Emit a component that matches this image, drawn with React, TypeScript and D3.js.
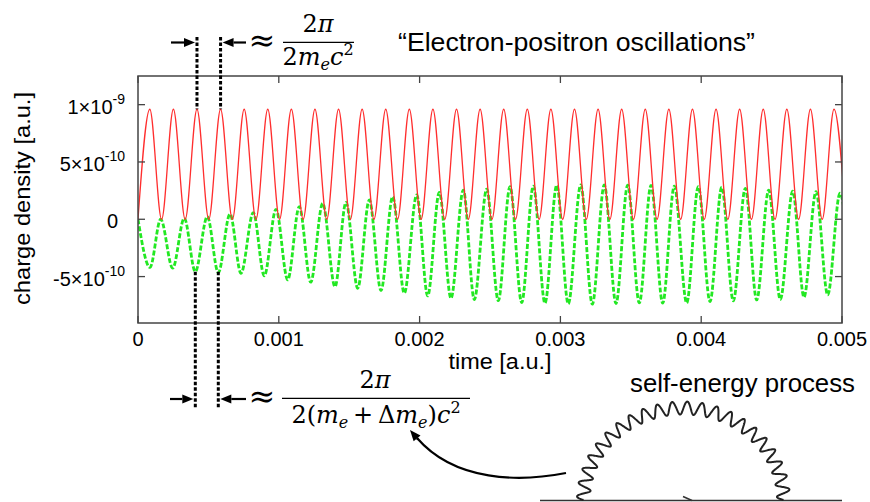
import React from 'react';
import * as d3 from 'd3';

const WIDTH = 870;
const HEIGHT = 502;

// times are stored in units of 1e-3 a.u., densities in units of 1e-10 a.u.
const T_UNIT = 1e-3;
const V_UNIT = 1e-10;

const xTicks = [0, 0.001, 0.002, 0.003, 0.004, 0.005];
const xTickLabels = ['0', '0.001', '0.002', '0.003', '0.004', '0.005'];
const yTicks = [-5e-10, 0, 5e-10, 1e-9];

// red curve: minima (touching zero) and maxima
const redTroughTimes = [0, 0.1676, 0.3351, 0.5027, 0.6703, 0.8378, 1.0054, 1.1730, 1.3405, 1.5081,
  1.6757, 1.8433, 2.0108, 2.1784, 2.3460, 2.5135, 2.6811, 2.8487, 3.0162, 3.1838,
  3.3514, 3.5189, 3.6865, 3.8541, 4.0216, 4.1892, 4.3568, 4.5243, 4.6919, 4.8595, 5.0270];
const redTroughValues = [0, 0, 0, 0, 0, 0, 0, 0, 0, 0, 0, 0, 0, 0, 0, 0, 0, 0, 0, 0,
  0, 0, 0, 0, 0, 0, 0, 0, 0, 0, 0];
const redPeakTimes = [0.0838, 0.2514, 0.4189, 0.5865, 0.7541, 0.9216, 1.0892, 1.2568, 1.4244, 1.5919,
  1.7595, 1.9271, 2.0946, 2.2622, 2.4298, 2.5973, 2.7649, 2.9325, 3.1001, 3.2676,
  3.4352, 3.6028, 3.7703, 3.9379, 4.1055, 4.2730, 4.4406, 4.6082, 4.7758, 4.9433];
const redPeakValues = [9.6, 9.6, 9.6, 9.6, 9.6, 9.6, 9.6, 9.6, 9.6, 9.6,
  9.6, 9.6, 9.6, 9.6, 9.6, 9.6, 9.6, 9.6, 9.6, 9.6,
  9.6, 9.6, 9.6, 9.6, 9.6, 9.6, 9.6, 9.6, 9.6, 9.6];

// green curve: maxima and minima
const greenPeakTimes = [0, 0.1612, 0.3288, 0.4922, 0.6534, 0.8189, 0.9801, 1.1456, 1.3118, 1.4773,
  1.6428, 1.8089, 1.9794, 2.1399, 2.3104, 2.4766, 2.6420, 2.8075, 2.9737, 3.1442,
  3.3118, 3.4780, 3.6435, 3.8089, 3.9794, 4.1456, 4.3132, 4.4794, 4.6499, 4.8153, 4.9858];
const greenPeakValues = [0, 0, 0.09, 0.23, 0.46, 0.58, 0.87, 1.1, 1.39, 1.48,
  1.68, 1.97, 2.12, 2.35, 2.55, 2.62, 2.84, 2.9, 2.97, 2.99,
  2.99, 2.98, 2.95, 2.88, 2.85, 2.8, 2.7, 2.55, 2.45, 2.4, 2.27];
const greenTroughTimes = [0.0852, 0.2464, 0.4070, 0.5703, 0.7315, 0.8970, 1.0632, 1.2266, 1.3991, 1.5604,
  1.7259, 1.8913, 2.0575, 2.2230, 2.3885, 2.5589, 2.7251, 2.8906, 3.0561, 3.2266,
  3.3949, 3.5604, 3.7266, 3.8970, 4.0625, 4.2280, 4.3942, 4.5618, 4.7301, 4.8984, 5.0650];
const greenTroughValues = [-4.2, -4.27, -4.57, -4.66, -4.71, -4.94, -5.29, -5.49, -5.88, -6.02,
  -6.22, -6.45, -6.69, -6.89, -7.0, -7.1, -7.27, -7.32, -7.38, -7.41,
  -7.35, -7.3, -7.32, -7.3, -7.18, -7.12, -7.04, -7.0, -6.8, -6.6, -6.4];

const PLOT = { left: 138, right: 842, top: 76, bottom: 323 };
const SANS = "'Liberation Sans', Arial, Helvetica, sans-serif";
const SERIF = "'DejaVu Serif', 'Liberation Serif', serif";

type Pt = { t: number; v: number };

function merge(t1: number[], v1: number[], t2: number[], v2: number[]): Pt[] {
  const pts: Pt[] = [];
  t1.forEach((t, i) => pts.push({ t, v: v1[i] }));
  t2.forEach((t, i) => pts.push({ t, v: v2[i] }));
  return pts.sort((a, b) => a.t - b.t);
}

function Arrow({ x1, y1, x2, y2, w = 2.2 }: { x1: number; y1: number; x2: number; y2: number; w?: number }) {
  const a = Math.atan2(y2 - y1, x2 - x1);
  const len = 11, half = 4.5;
  const bx = x2 - len * Math.cos(a), by = y2 - len * Math.sin(a);
  const p1 = [bx + half * Math.sin(a), by - half * Math.cos(a)];
  const p2 = [bx - half * Math.sin(a), by + half * Math.cos(a)];
  return (
    <g>
      <line x1={x1} y1={y1} x2={bx} y2={by} stroke="#000" strokeWidth={w} />
      <polygon points={`${x2},${y2} ${p1[0]},${p1[1]} ${p2[0]},${p2[1]}`} fill="#000" />
    </g>
  );
}

function yTickLabel(v: number) {
  if (v === 0) return { main: '0', sup: '' };
  const exp = Math.floor(Math.log10(Math.abs(v)) + 1e-9);
  const mant = Math.round(v / Math.pow(10, exp));
  return { main: `${mant}×10`, sup: `${exp}` };
}

export default function App() {
  const x = d3.scaleLinear().domain([0, 0.005]).range([PLOT.left, PLOT.right]);
  const y = d3.scaleLinear().domain([-9.05e-10, 1.25e-9]).range([PLOT.bottom, PLOT.top]);

  const red = merge(redTroughTimes, redTroughValues, redPeakTimes, redPeakValues);
  const green = merge(greenPeakTimes, greenPeakValues, greenTroughTimes, greenTroughValues);

  const line = d3.line<Pt>()
    .x(d => x(d.t * T_UNIT))
    .y(d => y(d.v * V_UNIT))
    .curve(d3.curveMonotoneX);

  // dotted markers at two neighbouring periods
  const topL = x(redPeakTimes[2] * T_UNIT), topR = x(redPeakTimes[3] * T_UNIT);
  const topEndY = y(redPeakValues[2] * V_UNIT);
  const botL = x(greenTroughTimes[2] * T_UNIT), botR = x(greenTroughTimes[3] * T_UNIT);
  const botStartY = y(greenTroughValues[2] * V_UNIT);

  // photon line of the self-energy diagram
  const cx = 683.5, cy = 500, rx = 100, ry = 92, amp = 6.5, cycles = 22;
  const wavePts: [number, number][] = d3.range(0, 1.0001, 1 / 900).map(u => {
    const th = Math.PI * (1 - u);
    const off = amp * Math.sin(2 * Math.PI * cycles * u);
    return [cx + (rx + off) * Math.cos(th), cy - (ry + off) * Math.sin(th)];
  });
  const wave = d3.line()(wavePts) || '';

  return (
    <svg width={WIDTH} height={HEIGHT} style={{ position: 'absolute', left: 0, top: 0, background: '#fff' }}>
      <defs>
        <clipPath id="plotclip">
          <rect x={PLOT.left} y={PLOT.top} width={PLOT.right - PLOT.left} height={PLOT.bottom - PLOT.top} />
        </clipPath>
      </defs>

      {/* curves */}
      <g clipPath="url(#plotclip)">
        <path d={line(green) || ''} fill="none" stroke="#22e822" strokeWidth={2.8} strokeDasharray="5,2" />
        <path d={line(red) || ''} fill="none" stroke="#ff2e2e" strokeWidth={1.3} />
      </g>

      {/* frame and ticks */}
      <rect x={PLOT.left} y={PLOT.top} width={PLOT.right - PLOT.left} height={PLOT.bottom - PLOT.top}
        fill="none" stroke="#444" strokeWidth={1.5} />
      {xTicks.map((t, i) => (
        <g key={'x' + i}>
          <line x1={x(t)} x2={x(t)} y1={PLOT.bottom} y2={PLOT.bottom - 7} stroke="#444" strokeWidth={1.3} />
          <line x1={x(t)} x2={x(t)} y1={PLOT.top} y2={PLOT.top + 7} stroke="#444" strokeWidth={1.3} />
          <text x={x(t)} y={346} textAnchor="middle" fontFamily={SANS} fontSize={20}>{xTickLabels[i]}</text>
        </g>
      ))}
      {yTicks.map((v, i) => {
        const lab = yTickLabel(v);
        return (
          <g key={'y' + i}>
            <line x1={PLOT.left} x2={PLOT.left + 7} y1={y(v)} y2={y(v)} stroke="#444" strokeWidth={1.3} />
            <line x1={PLOT.right} x2={PLOT.right - 7} y1={y(v)} y2={y(v)} stroke="#444" strokeWidth={1.3} />
            <text x={v === 0 ? 118 : 125} y={y(v) + 9} textAnchor="end" fontFamily={SANS} fontSize={20}>
              {lab.main}
              {lab.sup && <tspan fontSize={14} dy={-10}>{lab.sup}</tspan>}
            </text>
          </g>
        );
      })}

      {/* axis titles */}
      <text x={500} y={369} textAnchor="middle" fontFamily={SANS} fontSize={22} textLength={103}
        lengthAdjust="spacingAndGlyphs">time [a.u.]</text>
      <text transform={`translate(29.5,198.5) rotate(-90)`} textAnchor="middle" fontFamily={SANS} fontSize={22}
        textLength={213} lengthAdjust="spacingAndGlyphs">charge density [a.u.]</text>

      <text x={398} y={51} fontFamily={SANS} fontSize={25} textLength={357}
        lengthAdjust="spacingAndGlyphs">“Electron-positron oscillations”</text>

      {/* dotted period markers */}
      <g stroke="#000" strokeWidth={3} strokeDasharray="3.5,2" fill="none">
        <line x1={topL} x2={topL} y1={37} y2={topEndY} />
        <line x1={topR} x2={topR} y1={37} y2={topEndY} />
        <line x1={botL} x2={botL} y1={botStartY} y2={408} />
        <line x1={botR} x2={botR} y1={botStartY} y2={408} />
      </g>
      <Arrow x1={171} y1={42.5} x2={topL - 2} y2={42.5} />
      <Arrow x1={246} y1={42.5} x2={topR + 2} y2={42.5} />
      <Arrow x1={170} y1={399} x2={botL - 2} y2={399} />
      <Arrow x1={246} y1={399} x2={botR + 2} y2={399} />

      {/* top formula */}
      <text x={262} y={51} textAnchor="middle" fontFamily={SERIF} fontSize={32}>≈</text>
      <text x={318} y={31.5} textAnchor="middle" fontFamily={SERIF} fontSize={24}>
        2<tspan fontStyle="italic">π</tspan>
      </text>
      <line x1={283} x2={354} y1={42.3} y2={42.3} stroke="#000" strokeWidth={1.2} />
      <text x={318} y={65} textAnchor="middle" fontFamily={SERIF} fontSize={24}>
        2<tspan fontStyle="italic">m</tspan>
        <tspan fontStyle="italic" fontSize={16} dy={5}>e</tspan>
        <tspan fontStyle="italic" dy={-5}>c</tspan>
        <tspan fontSize={16} dy={-10}>2</tspan>
      </text>

      {/* bottom formula */}
      <text x={262} y={407} textAnchor="middle" fontFamily={SERIF} fontSize={32}>≈</text>
      <text x={375} y={388} textAnchor="middle" fontFamily={SERIF} fontSize={24}>
        2<tspan fontStyle="italic">π</tspan>
      </text>
      <line x1={282} x2={470} y1={398.3} y2={398.3} stroke="#000" strokeWidth={1.2} />
      <text x={376} y={423} textAnchor="middle" fontFamily={SERIF} fontSize={24}>
        2(<tspan fontStyle="italic">m</tspan>
        <tspan fontStyle="italic" fontSize={16} dy={5}>e</tspan>
        <tspan dy={-5}>{'\u2009+\u2009'}Δ</tspan>
        <tspan fontStyle="italic">m</tspan>
        <tspan fontStyle="italic" fontSize={16} dy={5}>e</tspan>
        <tspan dy={-5}>)</tspan>
        <tspan fontStyle="italic">c</tspan>
        <tspan fontSize={16} dy={-10}>2</tspan>
      </text>

      {/* curved pointer */}
      <path d="M566,473 C520,482 455,482 417,438" fill="none" stroke="#000" strokeWidth={2.2} />
      <Arrow x1={418} y1={439.5} x2={410} y2={430} />

      {/* self-energy diagram */}
      <text x={630} y={391.5} fontFamily={SANS} fontSize={25} textLength={225}
        lengthAdjust="spacingAndGlyphs">self-energy process</text>
      <line x1={540} x2={842} y1={500.5} y2={500.5} stroke="#333" strokeWidth={1.5} />
      <line x1={683} y1={496.5} x2={692} y2={500.5} stroke="#333" strokeWidth={1.5} />
      <path d={wave} fill="none" stroke="#222" strokeWidth={2} />
    </svg>
  );
}
